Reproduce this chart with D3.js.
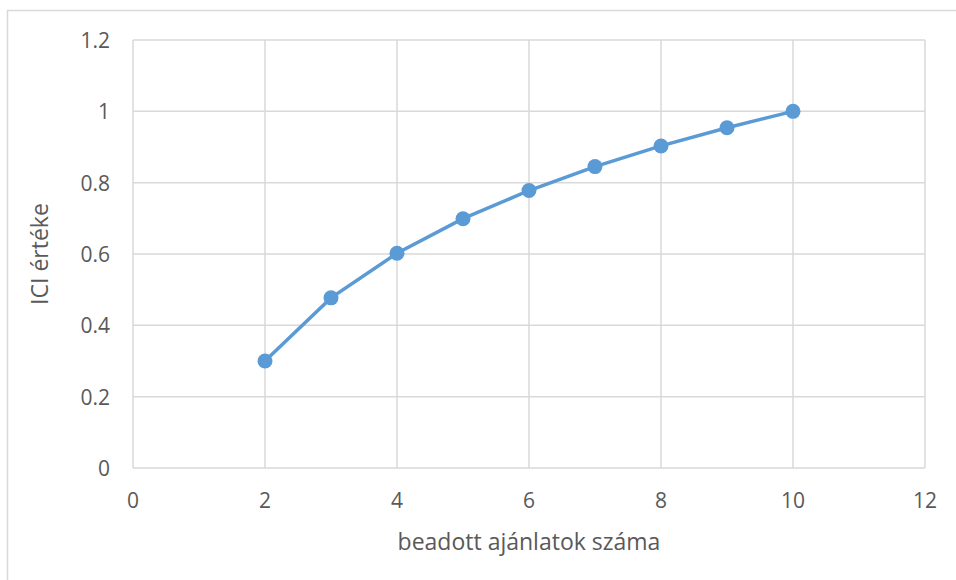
<!DOCTYPE html>
<html>
<head>
<meta charset="utf-8">
<script src="https://cdn.jsdelivr.net/npm/d3@7"></script>
<style>
  body { margin: 0; background: #fff; }
  text { font-family: "Open Sans", sans-serif; fill: #595959; }
</style>
</head>
<body>
<svg id="chart" width="956" height="580"></svg>
<script>
// adatok
const ajanlatok = [2, 3, 4, 5, 6, 7, 8, 9, 10]
const iciErtek = [0.30, 0.477, 0.602, 0.699, 0.778, 0.845, 0.903, 0.954, 1.0]
const xTicks = [0, 2, 4, 6, 8, 10, 12]
const yTicks = [0, 0.2, 0.4, 0.6, 0.8, 1, 1.2]

const svg = d3.select("#chart")

// plot terulet
const bal = 133, jobb = 925, fent = 40, lent = 468

const x = d3.scaleLinear().domain([0, 12]).range([bal, jobb])
const y = d3.scaleLinear().domain([0, 1.2]).range([lent, fent])

// kulso keret
svg.append("rect")
    .attr("x", 7.5).attr("y", 10.5)
    .attr("width", 960).attr("height", 600)
    .attr("fill", "none")
    .attr("stroke", "#d9d9d9")
    .attr("stroke-width", 1.5)

// racsvonalak
svg.append("g").selectAll("line")
    .data(yTicks)
    .join("line")
    .attr("x1", bal).attr("x2", jobb)
    .attr("y1", d => y(d)).attr("y2", d => y(d))
    .attr("stroke", "#d9d9d9")
    .attr("stroke-width", 1.5)

svg.append("g").selectAll("line")
    .data(xTicks)
    .join("line")
    .attr("x1", d => x(d)).attr("x2", d => x(d))
    .attr("y1", fent).attr("y2", lent)
    .attr("stroke", "#d9d9d9")
    .attr("stroke-width", 1.5)

// tengely feliratok
svg.append("g").selectAll("text")
    .data(xTicks)
    .join("text")
    .attr("x", d => x(d))
    .attr("y", 508)
    .attr("text-anchor", "middle")
    .attr("font-size", 21)
    .text(d => d)

svg.append("g").selectAll("text")
    .data(yTicks)
    .join("text")
    .attr("x", 110)
    .attr("y", d => y(d) + 8)
    .attr("text-anchor", "end")
    .attr("font-size", 21)
    .text(d => d)

// tengely cimek
svg.append("text")
    .attr("x", (bal + jobb) / 2)
    .attr("y", 550)
    .attr("text-anchor", "middle")
    .attr("font-size", 23)
    .text("beadott ajánlatok száma")

svg.append("text")
    .attr("transform", "translate(48," + (fent + lent) / 2 + ") rotate(-90)")
    .attr("text-anchor", "middle")
    .attr("font-size", 23)
    .text("ICI értéke")

// vonal
const vonal = d3.line()
    .x((d, i) => x(ajanlatok[i]))
    .y(d => y(d))

svg.append("path")
    .datum(iciErtek)
    .attr("d", vonal)
    .attr("fill", "none")
    .attr("stroke", "#5b9bd5")
    .attr("stroke-width", 3.5)

svg.append("g").selectAll("circle")
    .data(iciErtek)
    .join("circle")
    .attr("cx", (d, i) => x(ajanlatok[i]))
    .attr("cy", d => y(d))
    .attr("r", 7.5)
    .attr("fill", "#5b9bd5")
</script>
</body>
</html>
